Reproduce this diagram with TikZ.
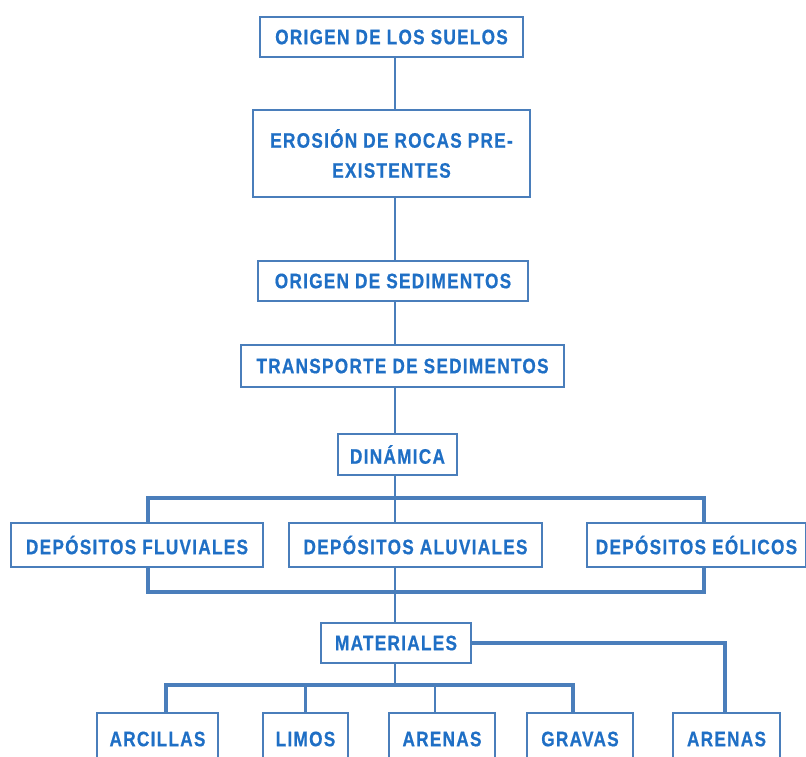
\documentclass[tikz,border=0pt]{standalone}
\usepackage{fontspec}
\newfontfamily\boxfont{Liberation Sans}[FakeStretch=0.82,LetterSpace=6,FakeBold=0.6]
\usetikzlibrary{positioning,calc}
\definecolor{txtblue}{HTML}{1F6FC5}
\definecolor{lineblue}{HTML}{4A7EBB}
\begin{document}
\begin{tikzpicture}[x=1pt,y=-1pt,
    caja/.style={draw=lineblue,line width=1.3pt,rectangle,inner sep=0pt,text=txtblue,align=center,
      font=\boxfont\bfseries\fontsize{21}{30}\selectfont},
    enlace/.style={draw=lineblue,line width=2.4pt},
    barra/.style={draw=lineblue,line width=3.2pt}]
              \useasboundingbox (0,0) rectangle (806,756);
              \clip (0,0) rectangle (806,756);

              \node[caja,minimum width=263pt,minimum height=40pt] (suelos) at (391.5,37) {ORIGEN DE LOS SUELOS};
              \node[caja,minimum width=277pt,minimum height=87pt] (erosion) at (391.5,153.5) {EROSIÓN DE ROCAS PRE-\\EXISTENTES};
              \node[caja,minimum width=270pt,minimum height=40pt] (sedim) at (393,281) {ORIGEN DE SEDIMENTOS};
              \node[caja,minimum width=323pt,minimum height=42pt] (transp) at (402.5,366) {TRANSPORTE DE SEDIMENTOS};
              \node[caja,minimum width=119pt,minimum height=41pt] (dinam) at (397.5,454.5) {DINÁMICA};

              \node[caja,minimum width=252pt,minimum height=44pt] (fluv) at (137,545) {DEPÓSITOS FLUVIALES};
              \node[caja,minimum width=253pt,minimum height=44pt] (aluv) at (415.5,545) {DEPÓSITOS ALUVIALES};
              \node[caja,minimum width=219pt,minimum height=44pt] (eol) at (696.5,545) {DEPÓSITOS EÓLICOS};

              \node[caja,minimum width=150pt,minimum height=40pt] (mater) at (396,643) {MATERIALES};

              \node[caja,minimum width=121pt,minimum height=52pt] (arcil) at (157.5,739) {ARCILLAS};
              \node[caja,minimum width=85pt,minimum height=52pt] (limos) at (305.5,739) {LIMOS};
              \node[caja,minimum width=106pt,minimum height=52pt] (arenas) at (442,739) {ARENAS};
              \node[caja,minimum width=106pt,minimum height=52pt] (gravas) at (580,739) {GRAVAS};
              \node[caja,minimum width=107pt,minimum height=52pt] (arenasb) at (726.5,739) {ARENAS};

              \coordinate (busA) at (395,498);
              \coordinate (busB) at (395,592);
              \coordinate (busC) at (395,685);

              \draw[enlace] (suelos.south -| busA) -- (erosion.north -| busA);
              \draw[enlace] (erosion.south -| busA) -- (sedim.north -| busA);
              \draw[enlace] (sedim.south -| busA) -- (transp.north -| busA);
              \draw[enlace] (transp.south -| busA) -- (dinam.north -| busA);
              \draw[enlace] (dinam.south -| busA) -- (aluv.north -| busA);
              \draw[enlace] (aluv.south -| busA) -- (mater.north -| busA);
              \draw[barra] ([xshift=11pt]fluv.north) |- (busA) -| ([xshift=7.5pt]eol.north);
              \draw[barra] ([xshift=11pt]fluv.south) |- (busB) -| ([xshift=7.5pt]eol.south);

              \draw[enlace] (mater.south -| busC) -- (busC);
              \draw[barra] ([xshift=8.5pt]arcil.north) |- (busC) -| ([xshift=-7pt]gravas.north);
              \draw[enlace] (limos.north) -- (limos.north |- busC);
              \draw[enlace] ([xshift=-7pt]arenas.north) -- ([xshift=-7pt]arenas.north |- busC);
              \draw[barra] (mater.east) -| ([xshift=-1.5pt]arenasb.north);
            \end{tikzpicture}
\end{document}
